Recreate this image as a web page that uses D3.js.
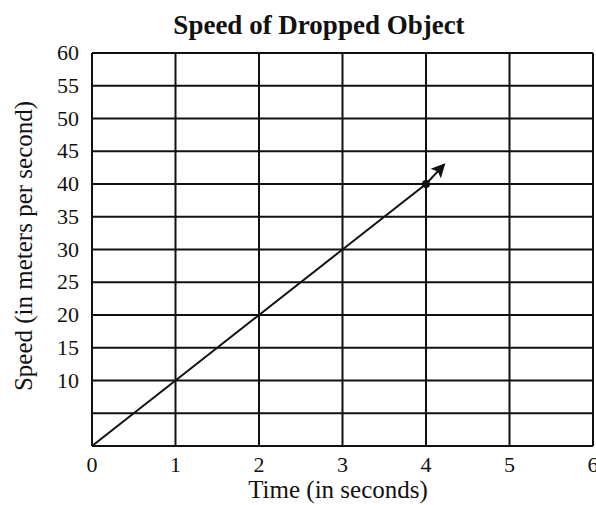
<!DOCTYPE html>
<html>
<head>
<meta charset="utf-8">
<script src="https://cdn.jsdelivr.net/npm/d3@7"></script>
<style>
  html, body { margin: 0; padding: 0; background: #fff; }
  svg { display: block; }
  text { font-family: "Liberation Serif", "DejaVu Serif", serif; fill: #111; }
</style>
</head>
<body>
<div id="chart"></div>
<script>
// Speed of a dropped object over time
const times = [0, 1, 2, 3, 4];
const speeds = [0, 10, 20, 30, 40];
const arrowEnd = { time: 4.22, speed: 43 };
const xTicks = [0, 1, 2, 3, 4, 5, 6];
const yGrid = [0, 5, 10, 15, 20, 25, 30, 35, 40, 45, 50, 55, 60];
const yLabels = [10, 15, 20, 25, 30, 35, 40, 45, 50, 55, 60];

const W = 596, H = 505;
const margin = { left: 92, right: 3, top: 53, bottom: 59 };

const svg = d3.select("#chart").append("svg")
  .attr("width", W).attr("height", H);

const x = d3.scaleLinear().domain([0, 6]).range([margin.left, W - margin.right]);
const y = d3.scaleLinear().domain([0, 60]).range([H - margin.bottom, margin.top]);

// grid
svg.append("g").selectAll("line").data(yGrid).join("line")
  .attr("x1", x(0)).attr("x2", x(6))
  .attr("y1", d => y(d)).attr("y2", d => y(d))
  .attr("stroke", "#111").attr("stroke-width", 2);
svg.append("g").selectAll("line").data(xTicks).join("line")
  .attr("x1", d => x(d)).attr("x2", d => x(d))
  .attr("y1", y(0)).attr("y2", y(60))
  .attr("stroke", "#111").attr("stroke-width", 2);

// tick labels
svg.append("g").selectAll("text").data(xTicks).join("text")
  .attr("x", d => x(d)).attr("y", y(0) + 26)
  .attr("text-anchor", "middle").attr("font-size", 22)
  .text(d => d);
svg.append("g").selectAll("text").data(yLabels).join("text")
  .attr("x", x(0) - 13).attr("y", d => y(d) + 7)
  .attr("text-anchor", "end").attr("font-size", 22)
  .text(d => d);

// line with arrow
const defs = svg.append("defs");
defs.append("marker").attr("id", "arrow")
  .attr("viewBox", "0 0 10 10").attr("refX", 9).attr("refY", 5)
  .attr("markerWidth", 8).attr("markerHeight", 7).attr("markerUnits", "strokeWidth")
  .attr("orient", "auto")
  .append("path").attr("d", "M0,0 L10,5 L0,10 L2,5 Z").attr("fill", "#111");

const pts = times.map((t, i) => [t, speeds[i]]).concat([[arrowEnd.time, arrowEnd.speed]]);
svg.append("path")
  .attr("d", d3.line().x(d => x(d[0])).y(d => y(d[1]))(pts))
  .attr("fill", "none").attr("stroke", "#111").attr("stroke-width", 2)
  .attr("marker-end", "url(#arrow)");

svg.append("circle")
  .attr("cx", x(times[4])).attr("cy", y(speeds[4])).attr("r", 4)
  .attr("fill", "#111");

// titles
svg.append("text").attr("x", 319).attr("y", 34)
  .attr("text-anchor", "middle").attr("font-size", 27).attr("font-weight", "bold")
  .text("Speed of Dropped Object");
svg.append("text").attr("x", 338).attr("y", 498)
  .attr("text-anchor", "middle").attr("font-size", 25)
  .text("Time (in seconds)");
svg.append("text")
  .attr("transform", `translate(32, 246) rotate(-90)`)
  .attr("text-anchor", "middle").attr("font-size", 25)
  .text("Speed (in meters per second)");
</script>
</body>
</html>
